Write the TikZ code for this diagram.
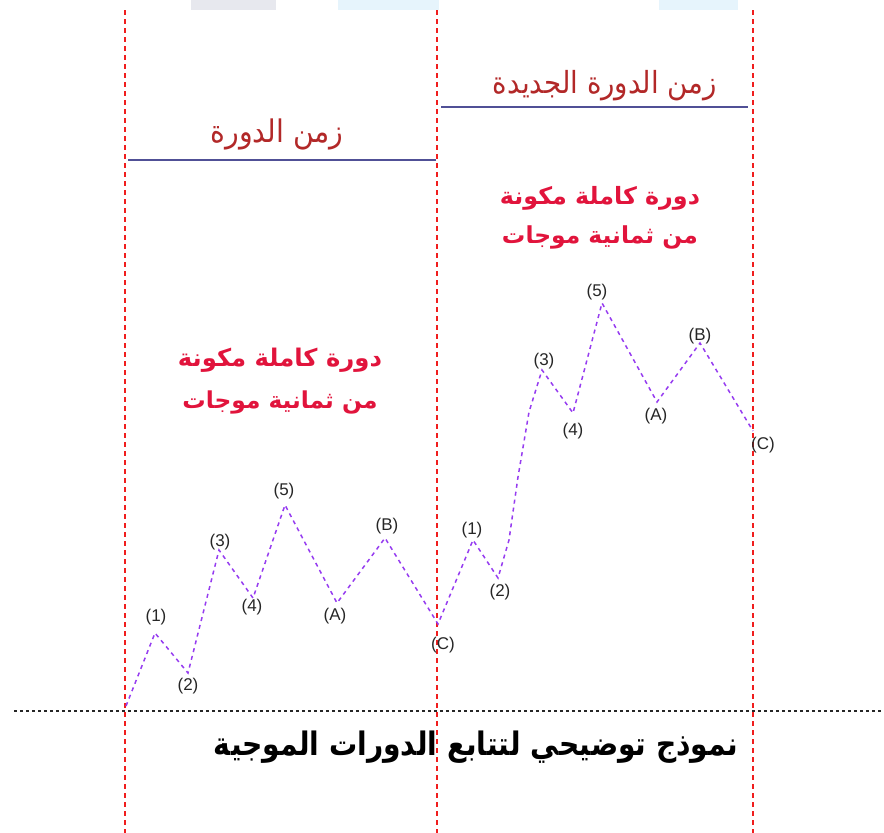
\documentclass[tikz,border=0pt]{standalone}
\usepackage{fontspec}
\setmainfont{Liberation Sans}
\newfontfamily\arabicfont[Script=Arabic]{DejaVu Sans}
\TeXXeTstate=1

\definecolor{guidered}{RGB}{240,30,30}
\definecolor{spanblue}{RGB}{80,80,150}
\definecolor{titlered}{RGB}{178,40,40}
\definecolor{notered}{RGB}{225,20,60}
\definecolor{wavepurple}{RGB}{150,60,240}
\definecolor{blobgrey}{RGB}{208,210,222}
\definecolor{blobblue}{RGB}{214,236,250}

\tikzset{
  guide/.style={draw=guidered, line width=1.8pt, dash pattern=on 5pt off 4pt},
  baseline dots/.style={draw=black!85, line width=1.5pt, dash pattern=on 3pt off 3pt},
  span/.style={draw=spanblue, line width=2.4pt},
  wave/.style={draw=wavepurple, line width=1.5pt, dash pattern=on 4pt off 4pt},
  wlabel/.style={font=\fontsize{17}{17}\selectfont, text=black!85, inner sep=0pt},
  title/.style={text=titlered, inner sep=0pt},
  note/.style={text=notered, inner sep=0pt},
  caption/.style={text=black, inner sep=0pt},
}

\begin{document}
\begin{tikzpicture}[x=1pt, y=-1pt]
\useasboundingbox (0,0) rectangle (884,833);

% soft header strip
\fill[blobgrey, opacity=0.5] (191,0) rectangle (276,10);
\fill[blobblue, opacity=0.6] (338,0) rectangle (439,10);
\fill[blobblue, opacity=0.6] (659,0) rectangle (738,10);

% cycle boundaries
\coordinate (g1t) at (125,10);  \coordinate (g1b) at (125,833);
\coordinate (g2t) at (437,10);  \coordinate (g2b) at (437,833);
\coordinate (g3t) at (753,10);  \coordinate (g3b) at (753,833);
\draw[guide] (g1t) -- (g1b);
\draw[guide] (g2t) -- (g2b);
\draw[guide] (g3t) -- (g3b);

% base line
\coordinate (bl) at (14,711); \coordinate (br) at (884,711);
\draw[baseline dots] (bl) -- (br);

% cycle duration bars
\coordinate (s1a) at (128,160); \coordinate (s1b) at (436,160);
\coordinate (s2a) at (441,107); \coordinate (s2b) at (748,107);
\draw[span] (s1a) -- (s1b);
\draw[span] (s2a) -- (s2b);

\node[title] (t1) at (277,134)
  {\scalebox{1}[1.1]{\resizebox{133pt}{!}{\arabicfont\beginR زمن الدورة\endR}}};
\node[title] (t2) at (605,86)
  {\scalebox{1}[1.1]{\resizebox{224pt}{!}{\arabicfont\beginR زمن الدورة الجديدة\endR}}};

\node[note] (n1a) at (280,360)
  {\resizebox{204pt}{!}{\arabicfont\bfseries\beginR دورة كاملة مكونة\endR}};
\node[note] (n1b) at (280,402)
  {\resizebox{195pt}{!}{\arabicfont\bfseries\beginR من ثمانية موجات\endR}};
\node[note] (n2a) at (600,198)
  {\resizebox{200pt}{!}{\arabicfont\bfseries\beginR دورة كاملة مكونة\endR}};
\node[note] (n2b) at (600,237)
  {\resizebox{196pt}{!}{\arabicfont\bfseries\beginR من ثمانية موجات\endR}};

\node[caption] (cap) at (476,747)
  {\scalebox{1}[1.15]{\resizebox{524pt}{!}{\arabicfont\bfseries\beginR نموذج توضيحي لتتابع الدورات الموجية\endR}}};

% first cycle turning points
\coordinate (p0) at (126,706);
\coordinate (p1) at (155,633);
\coordinate (p2) at (188,673);
\coordinate (p3) at (219,550);
\coordinate (p4) at (253,598);
\coordinate (p5) at (285,505);
\coordinate (pA) at (337,603);
\coordinate (pB) at (385,538);
\coordinate (pC) at (438,624);
% second cycle turning points
\coordinate (q1) at (473,540);
\coordinate (q2) at (498,578);
\coordinate (qm1) at (509,540);
\coordinate (qm2) at (518,477);
\coordinate (qm3) at (529,412);
\coordinate (q3) at (542,370);
\coordinate (q4) at (573,413);
\coordinate (q5) at (602,303);
\coordinate (qA) at (657,402);
\coordinate (qB) at (700,343);
\coordinate (qC) at (753,431);

\draw[wave] (p0) -- (p1) -- (p2) -- (p3) -- (p4) -- (p5) -- (pA) -- (pB) -- (pC)
  -- (q1) -- (q2) -- (qm1) -- (qm2) -- (qm3) -- (q3) -- (q4) -- (q5) -- (qA) -- (qB) -- (qC);

% wave labels
\node[wlabel] (l1) at (156,617) {(1)};
\node[wlabel] (l2) at (188,686) {(2)};
\node[wlabel] (l3) at (220,542) {(3)};
\node[wlabel] (l4) at (252,607) {(4)};
\node[wlabel] (l5) at (284,491) {(5)};
\node[wlabel] (lA) at (335,616) {(A)};
\node[wlabel] (lB) at (387,526) {(B)};
\node[wlabel] (lC) at (443,645) {(C)};

\node[wlabel] (m1) at (472,530) {(1)};
\node[wlabel] (m2) at (500,592) {(2)};
\node[wlabel] (m3) at (544,361) {(3)};
\node[wlabel] (m4) at (573,431) {(4)};
\node[wlabel] (m5) at (597,292) {(5)};
\node[wlabel] (mA) at (656,416) {(A)};
\node[wlabel] (mB) at (700,336) {(B)};
\node[wlabel] (mC) at (763,445) {(C)};
\end{tikzpicture}
\end{document}
